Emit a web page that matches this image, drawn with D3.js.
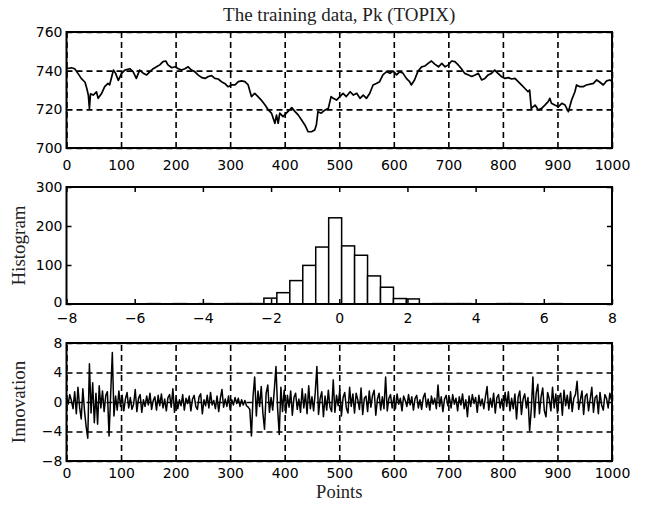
<!DOCTYPE html>
<html><head><meta charset="utf-8">
<script src="https://cdn.jsdelivr.net/npm/d3@7"></script>
<style>body{margin:0;background:#fff}</style>
</head><body>
<svg id="c" width="647" height="506"></svg>
<script>
// ---- data ----
const titleText = "The training data, Pk (TOPIX)";
const topX = [0,9,15,21,27,34,37,40,42,44,49,55,58,64,70,76,79,83,86,90,95,101,107,116,122,128,134,141,147,153,159,165,171,177,182,186,193,199,205,211,217,223,229,235,241,248,254,260,266,272,278,284,290,296,303,309,315,321,327,333,339,345,351,357,364,370,376,382,385,388,391,397,403,413,419,425,431,437,443,449,455,458,461,467,474,480,485,489,495,501,507,513,520,526,532,538,544,550,556,562,568,574,580,587,593,599,605,611,617,623,629,632,638,644,651,657,663,669,675,682,688,694,700,706,712,718,724,730,737,743,749,755,761,767,773,779,785,791,797,804,810,816,822,828,834,840,846,849,852,859,865,871,877,883,886,889,895,902,908,914,920,926,932,935,941,947,953,960,966,972,978,984,990,996,999];
const topY = [741,741.5,741,738.6,736,734,731,727.4,720.5,728,727.4,729,725.7,728,731.7,733.4,732.6,737,740.3,738.6,735,738.6,740.3,741,739.5,736,740.3,738.6,737.8,739.5,741,742,743,744.7,745,743,741.5,742,741,740.3,741,742,740.3,739.5,737.8,736.4,736,737,737.4,736,735.7,734.3,733.4,731.7,732.6,732.6,734.3,734.7,734.3,732.6,726.6,728.3,726.6,724.8,722.2,719.7,717.9,712.8,717,712.8,718,716.2,718,720.9,718.8,717,714.5,711.9,708.4,708.4,709.3,711.9,718.8,718,719.7,720.5,726.6,725.7,724.8,726.6,728.3,726.6,729.1,727.4,728.3,725.7,727.4,725.7,728.3,732.6,733.4,734.3,737.8,739.5,738.6,739.8,737.8,739.5,738.6,736,734.3,732.6,735.2,739.5,742,742.4,743.8,745,743.4,742,743.8,742,743,745,744.7,743,741,738.6,737.8,737,737.8,738.6,735.2,736,737.8,738.6,740.3,738.6,737,736,736.4,735.7,736,734.3,732.6,730.9,729.1,730,720.5,722.2,719.7,720.5,722.2,724,725.7,723.1,722.2,721.4,723.1,722.2,718.8,724.8,729.1,732.6,731.7,731.7,732.6,733,733.4,735.2,734,732.6,734.7,735.2,734.7];
const topXTicks = [0,100,200,300,400,500,600,700,800,900,1000];
const topYTicks = [700,720,740,760];

const histEdges = [-5.63,-5.25,-4.87,-4.49,-4.11,-3.73,-3.35,-2.97,-2.59,-2.21,-1.83,-1.45,-1.07,-0.69,-0.31,0.07,0.45,0.83,1.21,1.59,1.97,2.35,2.73,3.11,3.49,3.87,4.25,4.63,5.01,5.39,5.77,6.15,6.53];
const histCounts = [1,0,1,0,1,0,1,1,1,15,29,60,99,146,221,149,125,72,43,14,13,0,1,1,1,0,0,1,1,0,0,1];
const histXTicks = [-8,-6,-4,-2,0,2,4,6,8];
const histYTicks = [0,100,200,300];

// innovation sampled every 3rd point (index 0,3,...,999)
const innovY = [
0.5,-0.3,1.0,0.2,-0.9,1.4,-1.6,2.0,-0.7,-2.3,1.8,-1.2,-3.3,-4.9,5.2,-1.5,2.6,-2.8,1.2,-3.0,2.2,-0.8,1.5,-1.3,0.9,1.4,-4.6,1.1,6.7,-1.9,0.8,-1.1,1.5,-0.6,
0.9,-1.2,0.4,1.3,-0.8,0.6,-1.0,-0.3,1.7,-1.3,0.5,1.0,-1.4,0.3,-0.6,0.8,-0.4,1.2,-1.0,0.2,0.7,-1.1,0.9,-0.5,1.1,-0.8,0.4,-1.2,0.6,1.0,-0.7,1.8,-1.4,
0.6,-0.9,0.3,-0.5,1.0,-1.1,0.5,-0.2,0.8,-1.2,0.4,0.9,-0.6,-1.0,0.7,1.1,-1.6,0.3,-0.5,0.9,-0.8,1.3,-0.4,0.2,-0.9,0.8,-1.3,0.5,1.7,-0.7,0.4,-0.6,0.8,-1.0,0.3,-0.4,0.6,-0.2,0.5,-0.6,0.3,-0.4,0.2,-0.5,
-0.7,-1.0,-4.6,0.8,3.4,-1.9,1.5,-0.6,2.1,-1.5,-3.7,1.2,2.3,-1.4,0.6,-1.1,1.7,4.8,-0.9,-4.4,2.0,-1.3,1.6,
-1.5,0.9,-0.7,1.5,-1.8,0.6,1.2,-1.0,0.4,-1.4,1.8,-0.8,1.1,-1.6,2.2,-0.9,0.7,-1.2,1.3,4.8,-1.7,0.5,1.4,-2.0,0.8,-1.1,1.6,-0.7,-1.3,3.0,-1.4,0.9,-0.5,
1.7,-1.9,0.6,1.3,-0.8,-1.5,2.0,-0.6,1.1,-1.5,1.2,0.3,-1.0,1.9,-1.7,0.5,0.8,-1.3,1.5,-0.7,0.9,1.6,-1.8,0.4,1.2,-1.1,0.7,-0.9,3.4,-1.2,0.5,1.0,-0.8,
0.6,-0.9,1.1,-0.3,0.5,-1.2,0.8,0.2,-0.6,1.0,-0.4,0.7,-1.1,0.5,0.9,-0.8,0.3,-1.0,0.6,1.2,-0.7,0.4,-1.1,0.8,-0.3,0.5,-0.9,2.3,-0.6,0.7,-1.3,0.4,0.9,-0.5,0.6,-0.8,1.0,-0.3,0.5,-1.2,0.7,-0.4,1.1,-0.9,0.3,-2.0,0.8,-0.6,1.0,-0.2,0.6,-1.4,0.9,-0.5,0.4,-0.9,0.7,2.1,-1.1,0.5,-0.7,1.2,-1.5,0.6,1.0,-0.8,0.4,
-1.0,1.3,-0.6,1.4,-1.2,0.5,-0.9,1.1,-2.3,0.7,1.5,-1.7,0.4,1.1,-0.8,0.6,-3.9,
-1.0,3.4,-2.1,1.2,2.4,-1.6,0.7,1.9,-1.2,-2.0,1.3,0.4,-1.2,2.0,-0.8,1.1,-1.5,0.6,1.2,-1.8,1.6,-0.5,0.9,-0.9,1.4,-1.3,0.5,1.0,2.8,-1.0,0.3,1.5,-1.7,0.8,1.1,-1.2,0.4,2.0,-1.4,0.6,0.9,-1.6,1.3,-0.4,-1.1,1.0,0.5,-0.8,1.2,0.3];
const innovX = d3.range(0, 1000, 3);
const innovYTicks = [-8,-4,0,4,8];

const yLabelHist = "Histogram", yLabelInnov = "Innovation", xLabelPoints = "Points";

// ---- layout ----
const svg = d3.select("#c");
const L = 66.5, R = 612;
const panels = {top:[32,148], mid:[187,304], bot:[343,461]};
const tickFont = "'DejaVu Sans', sans-serif";
const serif = "'Liberation Serif','Times New Roman',serif";

function styleAxis(g){
  g.select(".domain").remove();
  g.selectAll("text").attr("font-family", tickFont).attr("font-size", "14px").attr("fill","#000");
}

function gridPanel(y0, y1, xDom, yDom, xT, yT){
  const x = d3.scaleLinear().domain(xDom).range([L, R]);
  const y = d3.scaleLinear().domain(yDom).range([y1, y0]);
  const gx = svg.append("g").attr("transform",`translate(0,${y1})`)
    .call(d3.axisBottom(x).tickValues(xT).tickSize(-(y1-y0)).tickFormat(""));
  gx.select(".domain").remove();
  gx.selectAll("line").attr("stroke","#000").attr("stroke-width",1.6).attr("stroke-dasharray","6,4");
  const gy = svg.append("g").attr("transform",`translate(${L},0)`)
    .call(d3.axisLeft(y).tickValues(yT).tickSize(-(R-L)).tickFormat(""));
  gy.select(".domain").remove();
  gy.selectAll("line").attr("stroke","#000").attr("stroke-width",1.6).attr("stroke-dasharray","6,4");
  return {x,y};
}

function labels(x, y, y1, xT, yT, xPad){
  svg.append("g").attr("transform",`translate(0,${y1})`)
    .call(d3.axisBottom(x).tickValues(xT).tickSize(0).tickPadding(xPad).tickFormat(d3.format("d"))).call(styleAxis);
  return svg.append("g").attr("transform",`translate(${L},0)`)
    .call(d3.axisLeft(y).tickValues(yT).tickSize(0).tickPadding(4).tickFormat(d3.format("d"))).call(styleAxis);
}

function box(y0, y1){
  svg.append("rect").attr("x",L).attr("y",y0).attr("width",R-L).attr("height",y1-y0)
    .attr("fill","none").attr("stroke","#000").attr("stroke-width",2);
}

// ---- top panel ----
{
  const [y0,y1] = panels.top;
  const {x,y} = gridPanel(y0,y1,[0,1000],[700,760],topXTicks,topYTicks);
  const line = d3.line().x((d,i)=>x(topX[i])).y(d=>y(d));
  svg.append("path").attr("d", line(topY)).attr("fill","none").attr("stroke","#000").attr("stroke-width",1.7).attr("stroke-linejoin","round");
  box(y0,y1);
  labels(x,y,y1,topXTicks,topYTicks,12);
  svg.append("text").attr("x",(L+R)/2).attr("y",21).attr("text-anchor","middle")
    .attr("font-family",serif).attr("font-size","19px").attr("fill","#222").text(titleText);
}

// ---- histogram ----
{
  const [y0,y1] = panels.mid;
  const x = d3.scaleLinear().domain([-8,8]).range([L,R]);
  const y = d3.scaleLinear().domain([0,300]).range([y1,y0]);
  svg.append("g").selectAll("rect").data(histCounts).join("rect")
    .attr("x",(d,i)=>x(histEdges[i])).attr("width",(d,i)=>x(histEdges[i+1])-x(histEdges[i]))
    .attr("y",d=>y(d)).attr("height",d=>y(0)-y(d))
    .attr("fill","#fff").attr("stroke","#000").attr("stroke-width",1.5);
  const tl = 5;
  const tk = (g)=>{g.select(".domain").remove(); g.selectAll("line").attr("stroke","#000").attr("stroke-width",1.5);};
  svg.append("g").attr("transform",`translate(0,${y1})`).call(d3.axisTop(x).tickValues(histXTicks).tickSize(tl).tickFormat("")).call(tk);
  svg.append("g").attr("transform",`translate(0,${y0})`).call(d3.axisBottom(x).tickValues(histXTicks).tickSize(tl).tickFormat("")).call(tk);
  svg.append("g").attr("transform",`translate(${L},0)`).call(d3.axisRight(y).tickValues(histYTicks).tickSize(tl).tickFormat("")).call(tk);
  svg.append("g").attr("transform",`translate(${R},0)`).call(d3.axisLeft(y).tickValues(histYTicks).tickSize(tl).tickFormat("")).call(tk);
  box(y0,y1);
  const gyl = labels(x,y,y1,histXTicks,histYTicks,9);
  gyl.selectAll("text").filter(d=>d===0).attr("dy","0.15em");
  svg.append("text").attr("transform",`translate(25,${(y0+y1)/2}) rotate(-90)`).attr("text-anchor","middle")
    .attr("font-family",serif).attr("font-size","19px").attr("fill","#222").text(yLabelHist);
}

// ---- innovation ----
{
  const [y0,y1] = panels.bot;
  const {x,y} = gridPanel(y0,y1,[0,1000],[-8,8],topXTicks,innovYTicks);
  const line = d3.line().x((d,i)=>x(innovX[i])).y(d=>y(d));
  svg.append("path").attr("d", line(innovY)).attr("fill","none").attr("stroke","#000").attr("stroke-width",1.5).attr("stroke-linejoin","round");
  box(y0,y1);
  labels(x,y,y1,topXTicks,innovYTicks,7);
  svg.append("text").attr("transform",`translate(25,${(y0+y1)/2}) rotate(-90)`).attr("text-anchor","middle")
    .attr("font-family",serif).attr("font-size","19px").attr("fill","#222").text(yLabelInnov);
  svg.append("text").attr("x",(L+R)/2).attr("y",498).attr("text-anchor","middle")
    .attr("font-family",serif).attr("font-size","18.5px").attr("fill","#222").text(xLabelPoints);
}
</script>
</body></html>
